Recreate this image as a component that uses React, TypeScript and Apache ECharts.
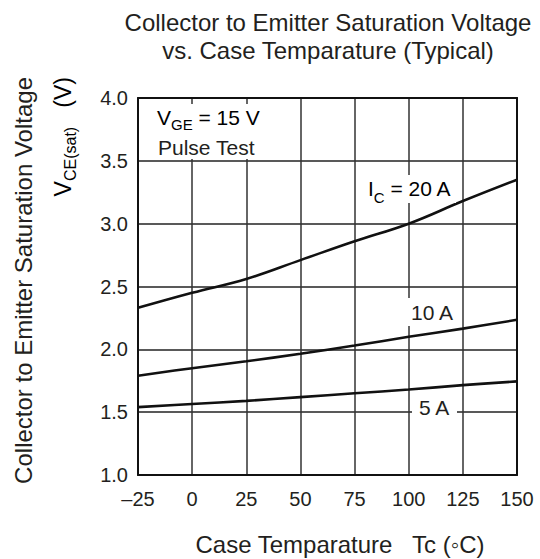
import React, { useEffect, useRef } from "react";
import * as echarts from "echarts";

const temps = [-25, 0, 25, 50, 75, 100, 125, 150];
const vce20A = [2.33, 2.45, 2.56, 2.71, 2.86, 3.0, 3.18, 3.35];
const vce10A = [1.79, 1.85, 1.905, 1.965, 2.03, 2.1, 2.165, 2.235];
const vce5A = [1.54, 1.565, 1.59, 1.62, 1.65, 1.68, 1.715, 1.745];

const titleLines = [
  "Collector to Emitter Saturation Voltage",
  "vs. Case Temparature (Typical)",
];
const xAxisTitle = "Case Temparature   Tc (\u25E6C)";
const yAxisTitle = "Collector to Emitter Saturation Voltage";

const FONT = "'Liberation Sans', Arial, Helvetica, sans-serif";
const INK = "#231f20";

export default function App() {
  const ref = useRef<HTMLDivElement>(null);
  useEffect(() => {
    if (!ref.current) return;
    const chart = echarts.init(ref.current, undefined, { renderer: "svg" });
    const pair = (ys: number[]) => temps.map((t, i) => [t, ys[i]]);
    const lineSeries = (name: string, ys: number[]) => ({
      type: "line",
      name,
      data: pair(ys),
      smooth: 0.4,
      symbol: "none",
      lineStyle: { color: "#111", width: 2.6 },
      z: 5,
    });
    const subRich = (drop: number) => ({
      n: { fontSize: 21, fontFamily: FONT, color: INK, verticalAlign: "top", lineHeight: 24 },
      s: { fontSize: 15, fontFamily: FONT, color: INK, verticalAlign: "top", lineHeight: 16, padding: [drop, 0, 0, 0] },
    });
    const frame = { show: true, onZero: false, lineStyle: { color: "#111", width: 2 } };
    chart.setOption({
      animation: false,
      grid: { left: 138, top: 98, width: 379, height: 377 },
      xAxis: [
        {
          type: "value",
          position: "bottom",
          min: -25,
          max: 150,
          interval: 25,
          axisLine: frame,
          axisTick: { show: false },
          splitLine: { show: true, lineStyle: { color: "#333333", width: 1.5 } },
          axisLabel: {
            margin: 14,
            fontSize: 20,
            fontFamily: FONT,
            color: INK,
            formatter: (v: number) => (v < 0 ? "\u2013" + Math.abs(v) : String(v)),
          },
        },
        {
          type: "value",
          position: "top",
          min: -25,
          max: 150,
          interval: 25,
          axisLine: frame,
          axisTick: { show: false },
          splitLine: { show: false },
          axisLabel: { show: false },
        },
      ],
      yAxis: [
        {
          type: "value",
          position: "left",
          min: 1,
          max: 4,
          interval: 0.5,
          axisLine: frame,
          axisTick: { show: false },
          splitLine: { show: true, lineStyle: { color: "#222222", width: 1.5 } },
          axisLabel: {
            margin: 10,
            fontSize: 20,
            fontFamily: FONT,
            color: INK,
            formatter: (v: number) => v.toFixed(1),
          },
        },
        {
          type: "value",
          position: "right",
          min: 1,
          max: 4,
          interval: 0.5,
          axisLine: frame,
          axisTick: { show: false },
          splitLine: { show: false },
          axisLabel: { show: false },
        },
      ],
      series: [
        lineSeries("20 A", vce20A),
        lineSeries("10 A", vce10A),
        lineSeries("5 A", vce5A),
      ],
      graphic: [
        {
          type: "text", x: 328, y: 22, z: 20,
          style: { text: titleLines[0], align: "center", verticalAlign: "middle", fontSize: 24, fontFamily: FONT, fill: INK },
        },
        {
          type: "text", x: 328, y: 50, z: 20,
          style: { text: titleLines[1], align: "center", verticalAlign: "middle", fontSize: 24, fontFamily: FONT, fill: INK },
        },
        {
          type: "text", x: 340, y: 544, z: 20,
          style: { text: xAxisTitle, align: "center", verticalAlign: "middle", fontSize: 24, fontFamily: FONT, fill: INK },
        },
        {
          type: "text", x: 23, y: 77, rotation: Math.PI / 2, z: 20,
          style: { text: yAxisTitle, align: "right", verticalAlign: "middle", fontSize: 24, fontFamily: FONT, fill: INK },
        },
        {
          type: "text", x: 51, y: 77, rotation: Math.PI / 2, z: 20,
          style: {
            text: "{n|V}{s|CE(sat)}{n|   (V)}",
            align: "right",
            verticalAlign: "top",
            rich: {
              n: { fontSize: 23, fontFamily: FONT, color: INK, verticalAlign: "top", lineHeight: 26 },
              s: { fontSize: 16, fontFamily: FONT, color: INK, verticalAlign: "top", lineHeight: 18, padding: [11, 0, 0, 0] },
            },
          },
        },
        { type: "rect", z: 15, shape: { x: 140, y: 104, width: 127, height: 55 }, style: { fill: "#fff" } },
        { type: "rect", z: 15, shape: { x: 364, y: 175, width: 92, height: 28 }, style: { fill: "#fff" } },
        { type: "rect", z: 15, shape: { x: 408, y: 298, width: 48, height: 28 }, style: { fill: "#fff" } },
        { type: "rect", z: 15, shape: { x: 412, y: 395, width: 45, height: 25 }, style: { fill: "#fff" } },
        {
          type: "text", x: 157, y: 107, z: 20,
          style: { text: "{n|V}{s|GE}{n| = 15 V}", align: "left", verticalAlign: "top", rich: subRich(10) },
        },
        {
          type: "text", x: 158, y: 147, z: 20,
          style: { text: "Pulse Test", align: "left", verticalAlign: "middle", fontSize: 21, fontFamily: FONT, fill: INK },
        },
        {
          type: "text", x: 368, y: 178, z: 20,
          style: { text: "{n|I}{s|C}{n| = 20 A}", align: "left", verticalAlign: "top", rich: subRich(12) },
        },
        {
          type: "text", x: 411, y: 312.5, z: 20,
          style: { text: "10 A", align: "left", verticalAlign: "middle", fontSize: 21, fontFamily: FONT, fill: INK },
        },
        {
          type: "text", x: 419, y: 407, z: 20,
          style: { text: "5 A", align: "left", verticalAlign: "middle", fontSize: 21, fontFamily: FONT, fill: INK },
        },
      ],
    });
    return () => chart.dispose();
  }, []);
  return (
    <div
      ref={ref}
      style={{ position: "absolute", left: 0, top: 0, width: 540, height: 559, background: "#fff" }}
    />
  );
}
